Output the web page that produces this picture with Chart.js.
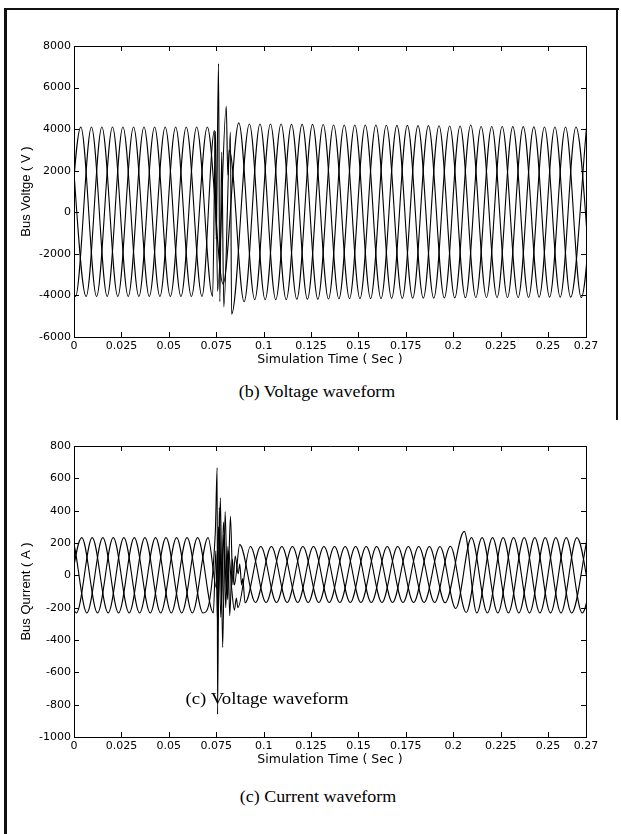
<!DOCTYPE html>
<html>
<head>
<meta charset="utf-8">
<script src="https://cdn.jsdelivr.net/npm/chart.js@4.4.1/dist/chart.umd.min.js"></script>
<style>
  body { margin: 0; background: #fff; }
  #page { position: relative; width: 621px; height: 834px; overflow: hidden; background: #fff; }
  .frame { position: absolute; background: #111; }
  .cap { position: absolute; font-family: "Liberation Serif", "Times New Roman", serif; font-size: 16.5px; line-height: 18px; color: #000; white-space: nowrap; }
  canvas { position: absolute; left: 0; }
</style>
</head>
<body>
<div id="page">
  <div class="frame" style="left:4px;top:8px;width:615px;height:2px"></div>
  <div class="frame" style="left:4px;top:8px;width:3px;height:826px"></div>
  <div class="frame" style="left:616px;top:8px;width:2px;height:412px"></div>

  <canvas id="voltChart" width="621" height="380" style="top:0"></canvas>
  <div class="cap" style="left:317px;top:383px;transform:translateX(-50%) scaleX(1.085)">(b) Voltage waveform</div>

  <canvas id="currChart" width="621" height="380" style="top:400px"></canvas>
  <div class="cap" style="left:267px;top:690px;font-size:17px;transform:translateX(-50%) scaleX(1.105)">(c) Voltage waveform</div>
  <div class="cap" style="left:318px;top:788px;transform:translateX(-50%) scaleX(1.088)">(c) Current waveform</div>
</div>

<script>
// tick positions
const timeTicks = [0, 0.025, 0.05, 0.075, 0.1, 0.125, 0.15, 0.175, 0.2, 0.225, 0.25, 0.27];
const voltTicks = [-6000, -4000, -2000, 0, 2000, 4000, 6000, 8000];
const currTicks = [-1000, -800, -600, -400, -200, 0, 200, 400, 600, 800];

// bus voltage, three phases: [time (s), volts] at each turning point
const voltA = [
  [-0.0047,-4050],[0.0036,4100],[0.0119,-4050],[0.0203,4100],[0.0286,-4050],[0.0369,4100],[0.0453,-4050],
  [0.0536,4100],[0.0619,-4050],[0.0703,4100],[0.0786,-3450],[0.0869,4300],[0.0953,-4200],[0.1036,4250],
  [0.1119,-4200],[0.1203,4230],[0.1286,-4180],[0.1369,4200],[0.1453,-4150],[0.1536,4200],[0.1619,-4150],
  [0.1703,4180],[0.1786,-4130],[0.1869,4170],[0.1953,-4120],[0.2036,4150],[0.2119,-4100],[0.2203,4130],
  [0.2286,-4100],[0.2369,4120],[0.2453,-4080],[0.2536,4100],[0.2619,-4080],[0.2703,4100]
];
const voltB = [
  [-0.0075,4100],[0.0008,-4050],[0.0092,4100],[0.0175,-4050],[0.0258,4100],[0.0342,-4050],[0.0425,4100],
  [0.0508,-4050],[0.0592,4100],[0.0675,-4050],[0.0741,3950],[0.0750,-1300],[0.0762,7150],[0.0769,-4300],
  [0.0779,2900],[0.0790,-4550],[0.0825,3850],[0.0831,-4900],[0.0925,4250],[0.1008,-4200],[0.1092,4250],
  [0.1175,-4180],[0.1258,4230],[0.1342,-4170],[0.1425,4200],[0.1508,-4150],[0.1592,4200],[0.1675,-4140],
  [0.1758,4180],[0.1842,-4130],[0.1925,4160],[0.2008,-4120],[0.2092,4200],[0.2175,-4100],[0.2258,4130],
  [0.2342,-4100],[0.2425,4110],[0.2508,-4080],[0.2592,4100],[0.2675,-4100],[0.2758,4100]
];
const voltC = [
  [-0.0019,4100],[0.0064,-4050],[0.0147,4100],[0.0231,-4050],[0.0314,4100],[0.0397,-4050],[0.0481,4100],
  [0.0564,-4050],[0.0647,4100],[0.0731,-4050],[0.0746,3900],[0.0757,-3800],[0.0803,5100],[0.0811,1800],
  [0.0819,3000],[0.0897,-4300],[0.0981,4250],[0.1064,-4200],[0.1147,4230],[0.1231,-4180],[0.1314,4220],
  [0.1397,-4160],[0.1481,4200],[0.1564,-4150],[0.1647,4190],[0.1731,-4140],[0.1814,4170],[0.1897,-4130],
  [0.1981,4150],[0.2064,-4110],[0.2147,4130],[0.2231,-4100],[0.2314,4120],[0.2397,-4090],[0.2481,4100],
  [0.2564,-4080],[0.2647,4100],[0.2731,-4080]
];

// bus current, three phases: [time (s), amps]
const currA = [
  [-0.0098,-233],[-0.0015,233],[0.0068,-233],[0.0152,233],[0.0235,-233],[0.0318,233],[0.0402,-233],
  [0.0485,233],[0.0568,-233],[0.0652,233],[0.0735,-233],[0.0748,150],[0.0758,-320],[0.0772,480],
  [0.0784,-446],[0.0797,395],[0.0810,-150],[0.0825,365],[0.0838,-60],[0.0850,120],[0.0866,10],
  [0.0874,70],[0.0884,-60],[0.0890,-20],[0.0902,-170],[0.0985,178],[0.1068,-168],[0.1152,178],
  [0.1235,-168],[0.1318,178],[0.1402,-168],[0.1485,178],[0.1568,-168],[0.1652,178],[0.1735,-168],
  [0.1818,178],[0.1902,-168],[0.1985,180],[0.2068,-230],[0.2152,233],[0.2235,-233],[0.2318,233],
  [0.2402,-233],[0.2485,233],[0.2568,-233],[0.2652,233],[0.2735,-233]
];
const currB = [
  [-0.0042,-233],[0.0041,233],[0.0124,-233],[0.0207,233],[0.0291,-233],[0.0374,233],[0.0457,-233],
  [0.0541,233],[0.0624,-233],[0.0707,233],[0.0752,-80],[0.0762,300],[0.0774,-260],[0.0790,250],
  [0.0800,-200],[0.0812,180],[0.0821,-250],[0.0835,100],[0.0846,-60],[0.0874,190],[0.0957,-168],
  [0.1041,178],[0.1124,-168],[0.1207,178],[0.1291,-168],[0.1374,178],[0.1457,-168],[0.1541,178],
  [0.1624,-168],[0.1707,178],[0.1791,-168],[0.1874,178],[0.1957,-170],[0.2058,272],[0.2124,-233],
  [0.2207,233],[0.2291,-233],[0.2374,233],[0.2457,-233],[0.2541,233],[0.2624,-233],[0.2707,233]
];
const currC = [
  [-0.0070,233],[0.0013,-233],[0.0096,233],[0.0180,-233],[0.0263,233],[0.0346,-233],[0.0430,233],
  [0.0513,-233],[0.0596,233],[0.0680,-233],[0.0745,260],[0.0755,666],[0.0757,-860],[0.0766,420],
  [0.0778,-150],[0.0788,330],[0.0805,-120],[0.0815,150],[0.0832,-90],[0.0846,-215],[0.0856,-140],
  [0.0864,-200],[0.0930,178],[0.1013,-168],[0.1096,178],[0.1180,-168],[0.1263,178],[0.1346,-168],
  [0.1430,178],[0.1513,-168],[0.1596,178],[0.1680,-168],[0.1763,178],[0.1846,-168],[0.1930,178],
  [0.2013,-205],[0.2096,233],[0.2180,-233],[0.2263,233],[0.2346,-233],[0.2430,233],[0.2513,-233],
  [0.2596,233],[0.2680,-233],[0.2763,233]
];

const wide = 'DejaVu Sans, Verdana, sans-serif';
const sans = 'Liberation Sans, Arial, Helvetica, sans-serif';

// box round the plot with short inward ticks on all four sides
const boxTicks = {
  id: 'boxTicks',
  afterDatasetsDraw(chart) {
    const { ctx, chartArea: a, scales: { x, y } } = chart;
    ctx.save();
    ctx.strokeStyle = '#000';
    ctx.lineWidth = 1;
    ctx.beginPath();
    ctx.rect(Math.round(a.left) + 0.5, Math.round(a.top) + 0.5, Math.round(a.right - a.left), Math.round(a.bottom - a.top));
    x.ticks.forEach((t, i) => {
      const px = Math.round(x.getPixelForTick(i)) + 0.5;
      ctx.moveTo(px, a.bottom); ctx.lineTo(px, a.bottom - 5);
      ctx.moveTo(px, a.top); ctx.lineTo(px, a.top + 5);
    });
    y.ticks.forEach((t, i) => {
      const py = Math.round(y.getPixelForTick(i)) + 0.5;
      ctx.moveTo(a.left, py); ctx.lineTo(a.left + 5, py);
      ctx.moveTo(a.right, py); ctx.lineTo(a.right - 5, py);
    });
    ctx.stroke();
    ctx.restore();
  }
};

function makeChart(id, series, yTicks, yTitle) {
  const ctx = document.getElementById(id).getContext('2d');
  return new Chart(ctx, {
    type: 'line',
    data: {
      datasets: series.map((s) => ({
        data: s.map((p) => ({ x: p[0], y: p[1] })),
        borderColor: '#000',
        borderWidth: 1.1,
        pointRadius: 0,
        fill: false,
        cubicInterpolationMode: 'monotone'
      }))
    },
    options: {
      responsive: false,
      animation: false,
      events: [],
      layout: { padding: { top: 46, right: 35, left: 0, bottom: 0 } },
      plugins: { legend: { display: false }, tooltip: { enabled: false } },
      scales: {
        x: {
          type: 'linear',
          min: 0,
          max: 0.27,
          afterBuildTicks: (s) => { s.ticks = timeTicks.map((v) => ({ value: v })); },
          afterFit: (s) => { s.height = 43; },
          grid: { display: false, drawTicks: false },
          border: { color: '#000' },
          ticks: {
            autoSkip: false, maxRotation: 0, padding: 3, color: '#000',
            font: { family: wide, size: 11 },
            callback: (v) => String(v)
          },
          title: {
            display: true, text: 'Simulation Time ( Sec )', color: '#000',
            font: { family: wide, size: 12.5 }, padding: { top: 0, bottom: 13 }
          }
        },
        y: {
          min: yTicks[0],
          max: yTicks[yTicks.length - 1],
          afterBuildTicks: (s) => { s.ticks = yTicks.map((v) => ({ value: v })); },
          afterFit: (s) => { s.width = 74; },
          grid: { display: false, drawTicks: false },
          border: { color: '#000' },
          ticks: {
            padding: 3, color: '#000',
            font: { family: wide, size: 11 },
            callback: (v) => String(v)
          },
          title: {
            display: true, text: yTitle, color: '#000',
            font: { family: sans, size: 13 }, padding: { top: 19, bottom: 0 }
          }
        }
      }
    },
    plugins: [boxTicks]
  });
}

makeChart('voltChart', [voltA, voltB, voltC], voltTicks, 'Bus Voltge ( V )');
makeChart('currChart', [currA, currB, currC], currTicks, 'Bus Qurrent ( A )');
</script>
</body>
</html>
